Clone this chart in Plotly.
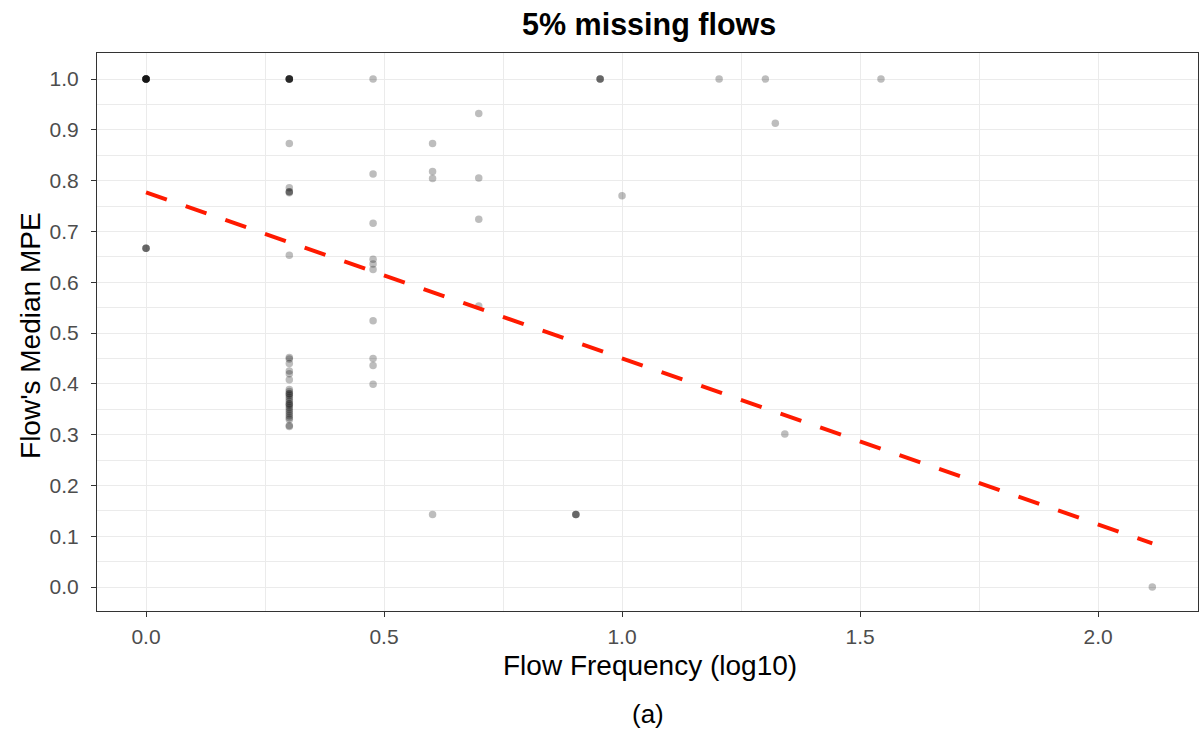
import plotly.graph_objects as go

# Flow frequency (log10) and flow's median MPE, one entry per flow (repeats = overlapping points)
mpe_at_0000 = [1.0] * 8 + [0.667] * 3
mpe_at_0301 = [1.0] * 6 + [0.873, 0.786, 0.778, 0.778, 0.776, 0.653, 0.452, 0.449, 0.44, 0.425,
                           0.42, 0.408, 0.389, 0.385, 0.381, 0.377, 0.373, 0.369, 0.365, 0.361,
                           0.357, 0.353, 0.349, 0.345, 0.341, 0.337, 0.333, 0.318, 0.316, 0.33,
                           0.36, 0.38]
mpe_at_0477 = [1.0, 0.813, 0.716, 0.645, 0.636, 0.625, 0.524, 0.45, 0.436, 0.399]
mpe_at_0602 = [0.873, 0.818, 0.804, 0.143]
mpe_at_0699 = [0.932, 0.805, 0.724, 0.553]
mpe_at_0903 = [0.143, 0.143, 0.143]
mpe_at_0954 = [1.0, 1.0, 1.0]
single_freq = [1.0, 1.204, 1.301, 1.322, 1.342, 1.544, 2.114]
single_mpe = [0.77, 1.0, 1.0, 0.913, 0.301, 1.0, 0.0]

freq_log10 = (
    [0.0] * len(mpe_at_0000)
    + [0.301] * len(mpe_at_0301)
    + [0.477] * len(mpe_at_0477)
    + [0.602] * len(mpe_at_0602)
    + [0.699] * len(mpe_at_0699)
    + [0.903] * len(mpe_at_0903)
    + [0.954] * len(mpe_at_0954)
    + single_freq
)
median_mpe = (mpe_at_0000 + mpe_at_0301 + mpe_at_0477 + mpe_at_0602 + mpe_at_0699
              + mpe_at_0903 + mpe_at_0954 + single_mpe)

# Fitted linear trend
trend_x = [0.0, 2.114]
trend_y = [0.777, 0.086]

x_ticks = [0.0, 0.5, 1.0, 1.5, 2.0]
x_tick_text = ["0.0", "0.5", "1.0", "1.5", "2.0"]
y_ticks = [0.0, 0.1, 0.2, 0.3, 0.4, 0.5, 0.6, 0.7, 0.8, 0.9, 1.0]
y_tick_text = ["0.0", "0.1", "0.2", "0.3", "0.4", "0.5", "0.6", "0.7", "0.8", "0.9", "1.0"]

FONT = "Liberation Sans, Arial, sans-serif"

fig = go.Figure()
fig.add_trace(go.Scatter(
    x=freq_log10, y=median_mpe, mode="markers",
    marker=dict(size=7.5, color="rgba(0,0,0,0.26)", line=dict(width=0)),
    showlegend=False, hoverinfo="x+y",
))
fig.add_trace(go.Scatter(
    x=trend_x, y=trend_y, mode="lines",
    line=dict(color="#ff1a00", width=4, dash="22px,20px"),
    showlegend=False,
))

axis_common = dict(
    showline=True, linecolor="#333333", linewidth=1, mirror=True,
    ticks="outside", ticklen=5, tickcolor="#333333", tickwidth=1,
    showgrid=True, gridcolor="#ebebeb", gridwidth=1.4,
    zeroline=False,
    tickfont=dict(family=FONT, size=21, color="#4d4d4d"),
)

fig.update_layout(
    width=1199, height=731,
    margin=dict(l=97, r=1, t=53, b=120),
    paper_bgcolor="white", plot_bgcolor="white",
    xaxis=dict(
        range=[-0.103, 2.21], tickvals=x_ticks, ticktext=x_tick_text,
        ticklabelstandoff=2,
        minor=dict(tickvals=[0.25, 0.75, 1.25, 1.75], showgrid=True, gridcolor="#ebebeb", gridwidth=0.7, ticks=""),
        **axis_common,
    ),
    yaxis=dict(
        range=[-0.0472, 1.0512], tickvals=y_ticks, ticktext=y_tick_text,
        ticklabelstandoff=8,
        minor=dict(tickvals=[0.05 + 0.1 * i for i in range(10)], showgrid=True, gridcolor="#ebebeb", gridwidth=0.7, ticks=""),
        **axis_common,
    ),
    annotations=[
        dict(text="<b>5% missing flows</b>", xref="paper", yref="paper", x=0.501, y=1.0502,
             xanchor="center", yanchor="middle", showarrow=False,
             font=dict(family=FONT, size=30.5, color="black")),
        dict(text="Flow Frequency (log10)", xref="paper", yref="paper", x=0.502, y=-0.0968,
             xanchor="center", yanchor="middle", showarrow=False,
             font=dict(family=FONT, size=28, color="black")),
        dict(text="Flow's Median MPE", xref="paper", yref="paper", x=-0.0609, y=0.4946,
             xanchor="center", yanchor="middle", showarrow=False, textangle=-90,
             font=dict(family=FONT, size=28, color="black")),
        dict(text="(a)", xref="paper", yref="paper", x=0.5, y=-0.1846,
             xanchor="center", yanchor="middle", showarrow=False,
             font=dict(family=FONT, size=26, color="black")),
    ],
)

fig.write_html(
    "out.html",
    config={"displayModeBar": False},
    post_script="document.body.style.margin='0';document.body.style.padding='0';document.body.style.overflow='hidden';",
)
